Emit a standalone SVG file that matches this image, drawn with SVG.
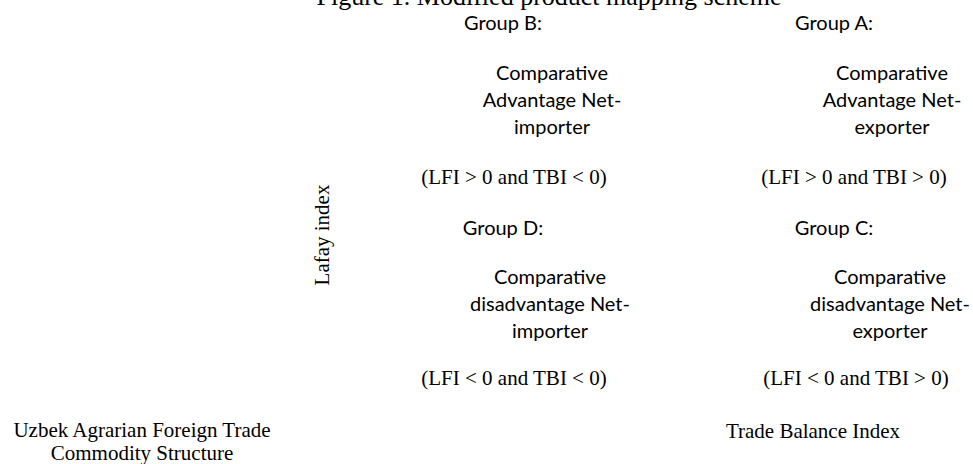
<svg xmlns="http://www.w3.org/2000/svg" width="973" height="464" viewBox="0 0 973 464">
  <style>
    .serif { font-family: "Liberation Serif", "Times New Roman", serif; font-size: 21px; fill: #000; }
    .title { font-family: "Liberation Serif", "Times New Roman", serif; font-size: 26px; fill: #000; }
    .sans { font-family: Lato, "Liberation Sans", sans-serif; font-size: 20px; fill: #000; }
    text { text-anchor: middle; }
  </style>
  <rect width="973" height="464" fill="#fff"/>

  <text class="title" x="549" y="5">Figure 1. Modified product mapping scheme</text>

  <!-- quadrant B: upper left -->
  <g id="group-b">
    <text class="sans" x="503" y="30">Group B:</text>
    <text class="sans" x="552" y="80">Comparative</text>
    <text class="sans" x="552" y="107">Advantage Net-</text>
    <text class="sans" x="552" y="134">importer</text>
    <text class="serif" x="514" y="184">(LFI &gt; 0 and TBI &lt; 0)</text>
  </g>

  <!-- quadrant A: upper right -->
  <g id="group-a">
    <text class="sans" x="834" y="30">Group A:</text>
    <text class="sans" x="892" y="80">Comparative</text>
    <text class="sans" x="892" y="107">Advantage Net-</text>
    <text class="sans" x="892" y="134">exporter</text>
    <text class="serif" x="854" y="184">(LFI &gt; 0 and TBI &gt; 0)</text>
  </g>

  <!-- quadrant D: lower left -->
  <g id="group-d">
    <text class="sans" x="503" y="235">Group D:</text>
    <text class="sans" x="550" y="284">Comparative</text>
    <text class="sans" x="550" y="311">disadvantage Net-</text>
    <text class="sans" x="550" y="338">importer</text>
    <text class="serif" x="514" y="385">(LFI &lt; 0 and TBI &lt; 0)</text>
  </g>

  <!-- quadrant C: lower right -->
  <g id="group-c">
    <text class="sans" x="834" y="235">Group C:</text>
    <text class="sans" x="890" y="284">Comparative</text>
    <text class="sans" x="890" y="311">disadvantage Net-</text>
    <text class="sans" x="890" y="338">exporter</text>
    <text class="serif" x="856" y="385">(LFI &lt; 0 and TBI &gt; 0)</text>
  </g>

  <!-- axis captions -->
  <g id="axis-y">
    <text class="serif" transform="translate(329 235) rotate(-90)">Lafay index</text>
  </g>
  <g id="axis-x">
    <text class="serif" x="813" y="438">Trade Balance Index</text>
  </g>
  <g id="caption">
    <text class="serif" x="142" y="437">Uzbek Agrarian Foreign Trade</text>
    <text class="serif" x="142" y="460">Commodity Structure</text>
  </g>

  <g id="connectors"></g>
</svg>
